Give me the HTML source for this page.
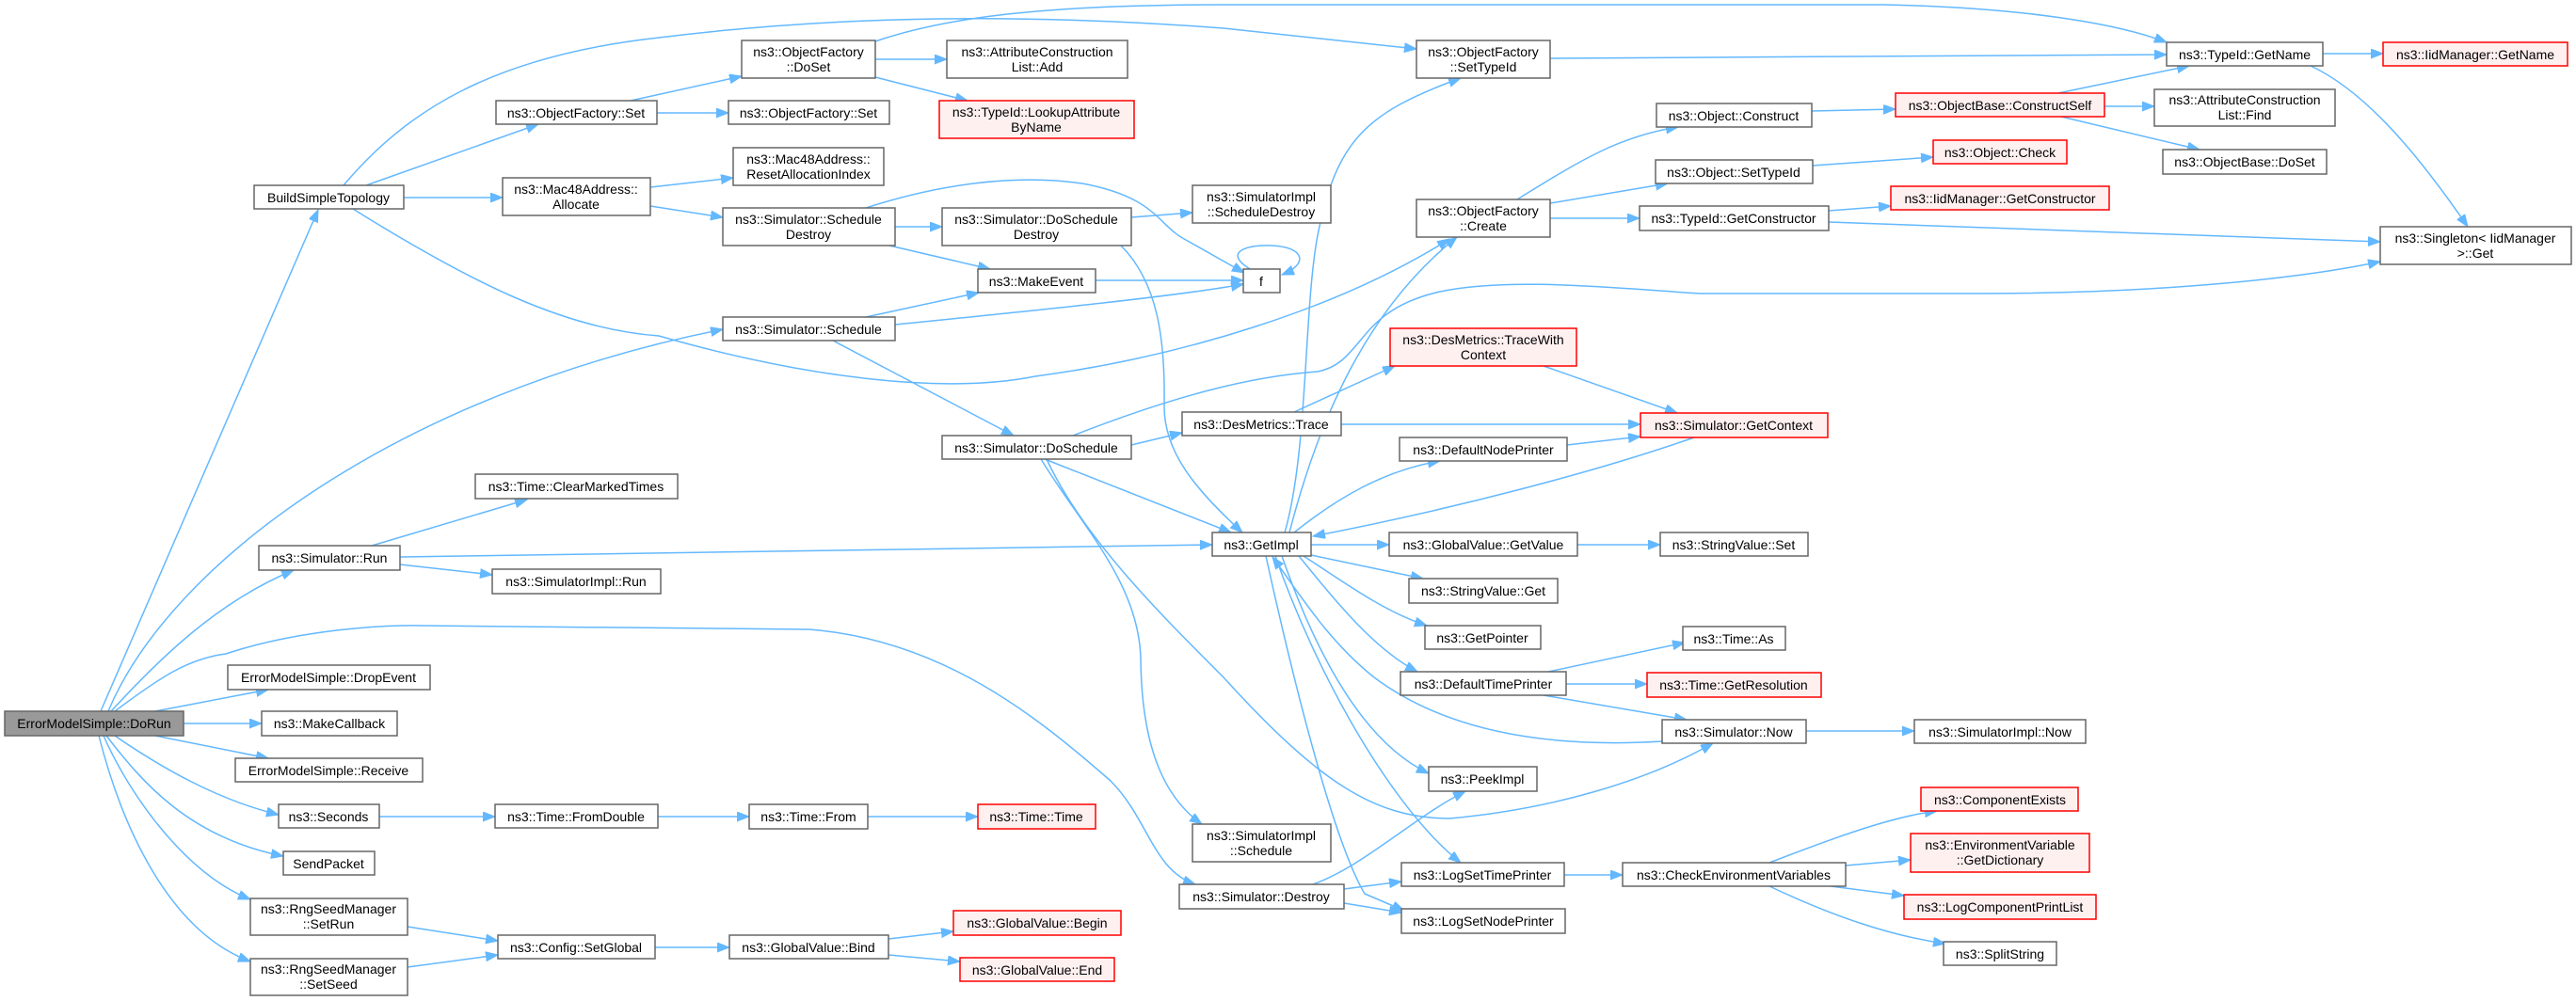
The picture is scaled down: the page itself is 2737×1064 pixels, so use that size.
<!DOCTYPE html>
<html><head><meta charset="utf-8"><style>
html,body{margin:0;padding:0;background:#fff;}
svg{display:block;}
text{font-family:"Liberation Sans",sans-serif;font-size:14px;fill:#000;text-anchor:middle;}
.n{fill:#fff;stroke:#666;stroke-width:1.5;}
.r{fill:#fff0f0;stroke:#f00;stroke-width:1.5;}
.g{fill:#999;stroke:#666;stroke-width:1.5;}
path.e{fill:none;stroke:#63b8ff;stroke-width:1.5;marker-end:url(#a);}
path.l{fill:none;stroke:#63b8ff;stroke-width:1.5;}
</style></head><body>
<svg width="2737" height="1064" viewBox="0 0 2737 1064" xmlns="http://www.w3.org/2000/svg">
<defs><marker id="a" markerUnits="userSpaceOnUse" markerWidth="14" markerHeight="12" refX="13" refY="5" orient="auto"><path d="M0,0 L13,5 L0,10 z" fill="#63b8ff" stroke="#63b8ff"/></marker></defs>
<!-- edges -->
<path class="e" d="M107,756 L338,223"/>
<path class="e" d="M115,756 C180,600 420,420 768,350"/>
<path class="e" d="M118,756 C170,700 230,640 312,606"/>
<path class="e" d="M122,756 C170,720 200,700 240,695 C300,675 380,664 450,665 L860,669 C1000,680 1100,760 1180,830 C1220,870 1225,925 1270,940"/>
<path class="e" d="M165,756 L285,733"/>
<path class="e" d="M195,769 L278,769"/>
<path class="e" d="M165,782 L285,806"/>
<path class="e" d="M122,782 C170,815 230,850 296,866"/>
<path class="e" d="M113,782 C150,830 200,890 301,910"/>
<path class="e" d="M110,782 C140,850 200,930 266,956"/>
<path class="e" d="M105,782 C130,880 180,990 266,1022"/>
<path class="e" d="M365,197 C430,120 520,60 700,40 C900,15 1100,15 1300,30 L1505,52"/>
<path class="e" d="M930,44 C1000,20 1100,5 1300,5 L2000,5 C2150,8 2250,25 2302,45"/>
<path class="e" d="M389,197 L572,132"/>
<path class="e" d="M429,210 L534,210"/>
<path class="e" d="M375,222 C500,300 600,350 700,357 C850,400 1000,420 1100,400 C1250,380 1420,330 1540,254"/>
<path class="e" d="M670,107 L788,81"/>
<path class="e" d="M698,120 L774,120"/>
<path class="e" d="M930,63 L1006,63"/>
<path class="e" d="M930,82 L1028,107"/>
<path class="e" d="M691,199 L779,189"/>
<path class="e" d="M691,219 L768,231"/>
<path class="e" d="M951,241 L1001,241"/>
<path class="e" d="M945,261 L1052,286"/>
<path class="e" d="M920,221 C1000,195 1080,185 1150,195 C1230,210 1230,240 1260,255 L1322,290"/>
<path class="e" d="M1202,231 L1267,226"/>
<path class="e" d="M1191,261 C1230,300 1238,360 1237,430 C1236,480 1270,520 1320,566"/>
<path class="e" d="M1164,298 L1321,298"/>
<path class="e" d="M1330,287 C1300,270 1320,260 1350,261 C1385,262 1392,280 1362,292"/>
<path class="e" d="M920,337 L1040,311"/>
<path class="e" d="M951,345 C1100,330 1250,315 1321,302"/>
<path class="e" d="M885,362 L1077,463"/>
<path class="e" d="M1202,473 L1256,460"/>
<path class="e" d="M1140,463 C1250,420 1330,400 1400,395 C1450,385 1440,330 1530,310 C1600,295 1700,305 1806,312 L2100,312 C2300,312 2450,295 2529,278"/>
<path class="e" d="M1110,488 L1308,566"/>
<path class="e" d="M1106,488 C1150,560 1210,620 1212,700 C1213,800 1240,850 1277,876"/>
<path class="e" d="M1112,488 C1150,570 1230,650 1300,720 C1400,830 1460,870 1540,870 C1650,860 1750,830 1820,790"/>
<path class="e" d="M1375,438 L1482,389"/>
<path class="e" d="M1425,451 L1743,451"/>
<path class="e" d="M1640,389 L1782,439"/>
<path class="e" d="M1800,465 C1700,500 1550,540 1395,570"/>
<path class="e" d="M1375,566 C1420,530 1470,500 1530,490"/>
<path class="e" d="M1665,473 L1743,464"/>
<path class="e" d="M1393,579 L1476,579"/>
<path class="e" d="M1393,590 L1512,615"/>
<path class="e" d="M1385,591 C1430,620 1470,650 1516,665"/>
<path class="e" d="M1380,591 C1420,640 1460,690 1506,714"/>
<path class="e" d="M1766,788 C1650,795 1540,780 1460,720 C1410,680 1380,630 1352,592"/>
<path class="e" d="M1362,591 C1400,700 1450,790 1518,822"/>
<path class="e" d="M1355,591 C1400,720 1480,860 1552,917"/>
<path class="e" d="M1345,591 C1380,750 1420,900 1450,950 L1492,968"/>
<path class="e" d="M425,592 L1288,579"/>
<path class="e" d="M395,580 L560,531"/>
<path class="e" d="M425,600 L523,611"/>
<path class="e" d="M1365,566 C1390,480 1385,330 1400,250 C1420,150 1450,120 1552,83"/>
<path class="e" d="M1370,566 C1400,450 1450,330 1548,252"/>
<path class="e" d="M1395,940 C1450,920 1500,870 1557,841"/>
<path class="e" d="M1428,945 L1489,937"/>
<path class="e" d="M1428,960 L1489,970"/>
<path class="e" d="M1676,579 L1764,579"/>
<path class="e" d="M1645,714 L1790,683"/>
<path class="e" d="M1664,727 L1750,727"/>
<path class="e" d="M1640,739 L1792,765"/>
<path class="e" d="M1919,777 L2034,777"/>
<path class="e" d="M1662,930 L1724,930"/>
<path class="e" d="M1880,917 C1950,890 2010,868 2058,862"/>
<path class="e" d="M1961,920 L2030,914"/>
<path class="e" d="M1945,942 L2023,952"/>
<path class="e" d="M1880,942 C1950,975 2010,995 2067,1003"/>
<path class="e" d="M1612,212 C1680,170 1720,145 1783,135"/>
<path class="e" d="M1647,216 L1772,195"/>
<path class="e" d="M1647,232 L1742,232"/>
<path class="e" d="M1925,118 L2014,116"/>
<path class="e" d="M2187,99 L2326,70"/>
<path class="e" d="M2236,113 L2289,113"/>
<path class="e" d="M2190,124 L2337,159"/>
<path class="e" d="M1926,176 L2054,167"/>
<path class="e" d="M1943,224 L2009,219"/>
<path class="e" d="M1943,236 C2200,245 2400,252 2529,257"/>
<path class="e" d="M1647,62 L2302,58"/>
<path class="e" d="M2468,57 L2532,57"/>
<path class="e" d="M2455,70 C2520,100 2580,180 2622,241"/>
<path class="e" d="M403,868 L526,868"/>
<path class="e" d="M699,868 L796,868"/>
<path class="e" d="M922,868 L1039,868"/>
<path class="e" d="M433,985 L529,1000"/>
<path class="e" d="M433,1028 L529,1015"/>
<path class="e" d="M696,1007 L775,1007"/>
<path class="e" d="M944,998 L1013,990"/>
<path class="e" d="M944,1015 L1020,1022"/>
<!-- nodes -->
<rect class="g" x="5" y="756" width="190" height="26"/><text x="100" y="774">ErrorModelSimple::DoRun</text>
<rect class="n" x="270" y="197" width="159" height="25"/><text x="349" y="215">BuildSimpleTopology</text>
<rect class="n" x="527" y="107" width="171" height="25"/><text x="612" y="125">ns3::ObjectFactory::Set</text>
<rect class="n" x="534" y="189" width="157" height="40"/><text x="612" y="206">ns3::Mac48Address::</text><text x="612" y="222">Allocate</text>
<rect class="n" x="505" y="504" width="215" height="26"/><text x="612" y="522">ns3::Time::ClearMarkedTimes</text>
<rect class="n" x="275" y="580" width="150" height="26"/><text x="350" y="598">ns3::Simulator::Run</text>
<rect class="n" x="523" y="605" width="179" height="26"/><text x="612" y="623">ns3::SimulatorImpl::Run</text>
<rect class="n" x="242" y="707" width="215" height="26"/><text x="349" y="725">ErrorModelSimple::DropEvent</text>
<rect class="n" x="278" y="756" width="144" height="26"/><text x="350" y="774">ns3::MakeCallback</text>
<rect class="n" x="250" y="806" width="199" height="25"/><text x="349" y="824">ErrorModelSimple::Receive</text>
<rect class="n" x="296" y="855" width="107" height="25"/><text x="349" y="873">ns3::Seconds</text>
<rect class="n" x="526" y="855" width="173" height="25"/><text x="612" y="873">ns3::Time::FromDouble</text>
<rect class="n" x="301" y="905" width="97" height="25"/><text x="349" y="923">SendPacket</text>
<rect class="n" x="266" y="955" width="167" height="39"/><text x="349" y="971">ns3::RngSeedManager</text><text x="349" y="987">::SetRun</text>
<rect class="n" x="266" y="1019" width="167" height="39"/><text x="349" y="1035">ns3::RngSeedManager</text><text x="349" y="1051">::SetSeed</text>
<rect class="n" x="529" y="994" width="167" height="25"/><text x="612" y="1012">ns3::Config::SetGlobal</text>
<rect class="n" x="788" y="43" width="142" height="40"/><text x="859" y="60">ns3::ObjectFactory</text><text x="859" y="76">::DoSet</text>
<rect class="n" x="1006" y="43" width="192" height="40"/><text x="1102" y="60">ns3::AttributeConstruction</text><text x="1102" y="76">List::Add</text>
<rect class="n" x="774" y="107" width="171" height="25"/><text x="859" y="125">ns3::ObjectFactory::Set</text>
<rect class="r" x="998" y="107" width="207" height="40"/><text x="1101" y="124">ns3::TypeId::LookupAttribute</text><text x="1101" y="140">ByName</text>
<rect class="n" x="779" y="157" width="160" height="40"/><text x="859" y="174">ns3::Mac48Address::</text><text x="859" y="190">ResetAllocationIndex</text>
<rect class="n" x="768" y="221" width="183" height="40"/><text x="859" y="238">ns3::Simulator::Schedule</text><text x="859" y="254">Destroy</text>
<rect class="n" x="1001" y="221" width="201" height="40"/><text x="1101" y="238">ns3::Simulator::DoSchedule</text><text x="1101" y="254">Destroy</text>
<rect class="n" x="1267" y="197" width="147" height="40"/><text x="1340" y="214">ns3::SimulatorImpl</text><text x="1340" y="230">::ScheduleDestroy</text>
<rect class="n" x="1039" y="286" width="125" height="25"/><text x="1101" y="304">ns3::MakeEvent</text>
<rect class="n" x="1321" y="286" width="39" height="25"/><text x="1340" y="304">f</text>
<rect class="n" x="768" y="337" width="183" height="25"/><text x="859" y="355">ns3::Simulator::Schedule</text>
<rect class="n" x="1001" y="463" width="201" height="25"/><text x="1101" y="481">ns3::Simulator::DoSchedule</text>
<rect class="n" x="1256" y="438" width="169" height="25"/><text x="1340" y="456">ns3::DesMetrics::Trace</text>
<rect class="n" x="1288" y="566" width="105" height="25"/><text x="1340" y="584">ns3::GetImpl</text>
<rect class="n" x="796" y="855" width="126" height="26"/><text x="859" y="873">ns3::Time::From</text>
<rect class="r" x="1039" y="855" width="125" height="26"/><text x="1101" y="873">ns3::Time::Time</text>
<rect class="n" x="1267" y="876" width="147" height="40"/><text x="1340" y="893">ns3::SimulatorImpl</text><text x="1340" y="909">::Schedule</text>
<rect class="n" x="1253" y="940" width="175" height="26"/><text x="1340" y="958">ns3::Simulator::Destroy</text>
<rect class="n" x="775" y="994" width="169" height="25"/><text x="859" y="1012">ns3::GlobalValue::Bind</text>
<rect class="r" x="1013" y="968" width="178" height="26"/><text x="1102" y="986">ns3::GlobalValue::Begin</text>
<rect class="r" x="1020" y="1018" width="164" height="25"/><text x="1102" y="1036">ns3::GlobalValue::End</text>
<rect class="n" x="1505" y="43" width="142" height="40"/><text x="1576" y="60">ns3::ObjectFactory</text><text x="1576" y="76">::SetTypeId</text>
<rect class="n" x="1760" y="110" width="165" height="25"/><text x="1842" y="128">ns3::Object::Construct</text>
<rect class="n" x="1759" y="170" width="167" height="25"/><text x="1842" y="188">ns3::Object::SetTypeId</text>
<rect class="n" x="1505" y="212" width="142" height="40"/><text x="1576" y="229">ns3::ObjectFactory</text><text x="1576" y="245">::Create</text>
<rect class="n" x="1742" y="219" width="201" height="26"/><text x="1842" y="237">ns3::TypeId::GetConstructor</text>
<rect class="r" x="1477" y="349" width="198" height="40"/><text x="1576" y="366">ns3::DesMetrics::TraceWith</text><text x="1576" y="382">Context</text>
<rect class="r" x="1743" y="439" width="199" height="26"/><text x="1842" y="457">ns3::Simulator::GetContext</text>
<rect class="n" x="1487" y="465" width="178" height="25"/><text x="1576" y="483">ns3::DefaultNodePrinter</text>
<rect class="n" x="1476" y="566" width="200" height="25"/><text x="1576" y="584">ns3::GlobalValue::GetValue</text>
<rect class="n" x="1764" y="566" width="157" height="25"/><text x="1842" y="584">ns3::StringValue::Set</text>
<rect class="n" x="1497" y="615" width="158" height="26"/><text x="1576" y="633">ns3::StringValue::Get</text>
<rect class="n" x="1514" y="665" width="123" height="25"/><text x="1575" y="683">ns3::GetPointer</text>
<rect class="n" x="1788" y="666" width="109" height="25"/><text x="1842" y="684">ns3::Time::As</text>
<rect class="n" x="1488" y="714" width="176" height="25"/><text x="1576" y="732">ns3::DefaultTimePrinter</text>
<rect class="r" x="1750" y="715" width="185" height="26"/><text x="1842" y="733">ns3::Time::GetResolution</text>
<rect class="n" x="1766" y="765" width="153" height="25"/><text x="1842" y="783">ns3::Simulator::Now</text>
<rect class="n" x="2034" y="765" width="182" height="25"/><text x="2125" y="783">ns3::SimulatorImpl::Now</text>
<rect class="n" x="1518" y="815" width="115" height="26"/><text x="1575" y="833">ns3::PeekImpl</text>
<rect class="n" x="1489" y="917" width="173" height="25"/><text x="1575" y="935">ns3::LogSetTimePrinter</text>
<rect class="n" x="1489" y="966" width="174" height="26"/><text x="1576" y="984">ns3::LogSetNodePrinter</text>
<rect class="n" x="1724" y="917" width="237" height="25"/><text x="1842" y="935">ns3::CheckEnvironmentVariables</text>
<rect class="n" x="2302" y="45" width="166" height="25"/><text x="2385" y="63">ns3::TypeId::GetName</text>
<rect class="r" x="2532" y="45" width="196" height="25"/><text x="2630" y="63">ns3::IidManager::GetName</text>
<rect class="r" x="2014" y="99" width="222" height="25"/><text x="2125" y="117">ns3::ObjectBase::ConstructSelf</text>
<rect class="n" x="2289" y="95" width="192" height="39"/><text x="2385" y="111">ns3::AttributeConstruction</text><text x="2385" y="127">List::Find</text>
<rect class="r" x="2054" y="149" width="142" height="25"/><text x="2125" y="167">ns3::Object::Check</text>
<rect class="n" x="2298" y="159" width="174" height="26"/><text x="2385" y="177">ns3::ObjectBase::DoSet</text>
<rect class="r" x="2009" y="198" width="232" height="25"/><text x="2125" y="216">ns3::IidManager::GetConstructor</text>
<rect class="n" x="2529" y="241" width="203" height="40"/><text x="2630" y="258">ns3::Singleton&lt; IidManager</text><text x="2630" y="274">&gt;::Get</text>
<rect class="r" x="2041" y="837" width="167" height="25"/><text x="2125" y="855">ns3::ComponentExists</text>
<rect class="r" x="2030" y="886" width="190" height="41"/><text x="2125" y="903">ns3::EnvironmentVariable</text><text x="2125" y="919">::GetDictionary</text>
<rect class="r" x="2023" y="951" width="204" height="26"/><text x="2125" y="969">ns3::LogComponentPrintList</text>
<rect class="n" x="2065" y="1001" width="120" height="25"/><text x="2125" y="1019">ns3::SplitString</text>
</svg>
</body></html>
